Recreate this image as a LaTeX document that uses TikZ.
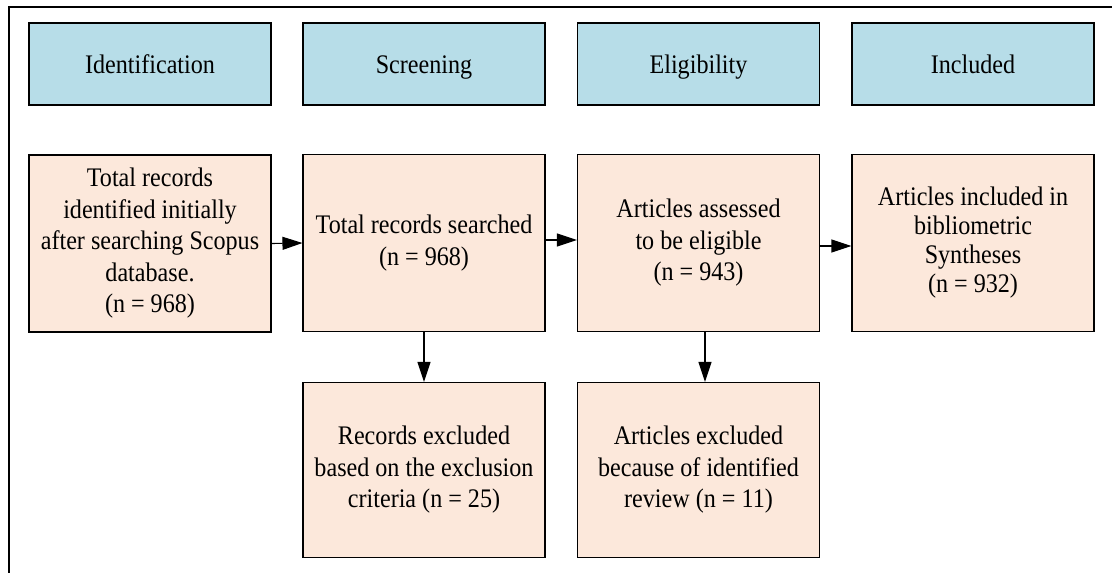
\documentclass[tikz,border=0pt]{standalone}
\usepackage{fontspec}
\setmainfont{Liberation Serif}[FakeStretch=0.9]
\usetikzlibrary{arrows.meta}
\definecolor{phaseblue}{HTML}{B7DDE8}
\definecolor{boxpeach}{HTML}{FCE8DB}
\tikzset{
  phase/.style={draw=black, line width=1.1pt, fill=phaseblue, minimum width=242pt, minimum height=82pt,
    inner sep=0pt, text height=20pt, text depth=2pt, font=\fontsize{26.8}{31}\selectfont},
  stage/.style={draw=black, line width=1.1pt, fill=boxpeach, minimum width=242pt, minimum height=177pt,
    inner sep=0pt, align=center, font=\fontsize{26.8}{31.5}\selectfont},
  flow/.style={line width=1.1pt, -{Triangle[length=20pt,width=13pt]}}
}
\begin{document}
\begin{tikzpicture}[x=1pt,y=-1pt]
\useasboundingbox (0,0) rectangle (1112,573);
% outer frame (open at the right and bottom)
\draw[line width=1.3pt] (9,573) -- (9,7) -- (1112,7);

% phase headers
\node[phase] (hid)  at (150,64)   {Identification};
\node[phase] (hscr) at (424,64)   {Screening};
\node[phase] (helg) at (698.5,64) {Eligibility};
\node[phase] (hinc) at (973,64)   {Included};

% main flow
\node[stage] (ident) at (150,243.5) {Total records\\identified initially\\after searching Scopus\\database.\\(n = 968)};
\node[stage] (search) at (424,243) {Total records searched\\(n = 968)};
\node[stage] (assess) at (698.5,243) {Articles assessed\\to be eligible\\(n = 943)};
\node[stage, font=\fontsize{26.8}{29}\selectfont] (incl) at (973,243) {Articles included in\\bibliometric\\Syntheses\\(n = 932)};

% exclusions
\node[stage, minimum height=175pt] (excl1) at (424,470) {Records excluded\\based on the exclusion\\criteria (n = 25)};
\node[stage, minimum height=175pt] (excl2) at (698.5,470) {Articles excluded\\because of identified\\review (n = 11)};

% connectors
\draw[flow] (ident.east) -- (search.west);
\draw[flow] ([yshift=3pt]search.east) -- ([yshift=3pt]assess.west);
\draw[flow] ([yshift=-3pt]assess.east) -- ([yshift=-3pt]incl.west);
\draw[flow] (search.south) -- (excl1.north);
\draw[flow] ([xshift=6.5pt]assess.south) -- ([xshift=6.5pt]excl2.north);
\end{tikzpicture}
\end{document}
